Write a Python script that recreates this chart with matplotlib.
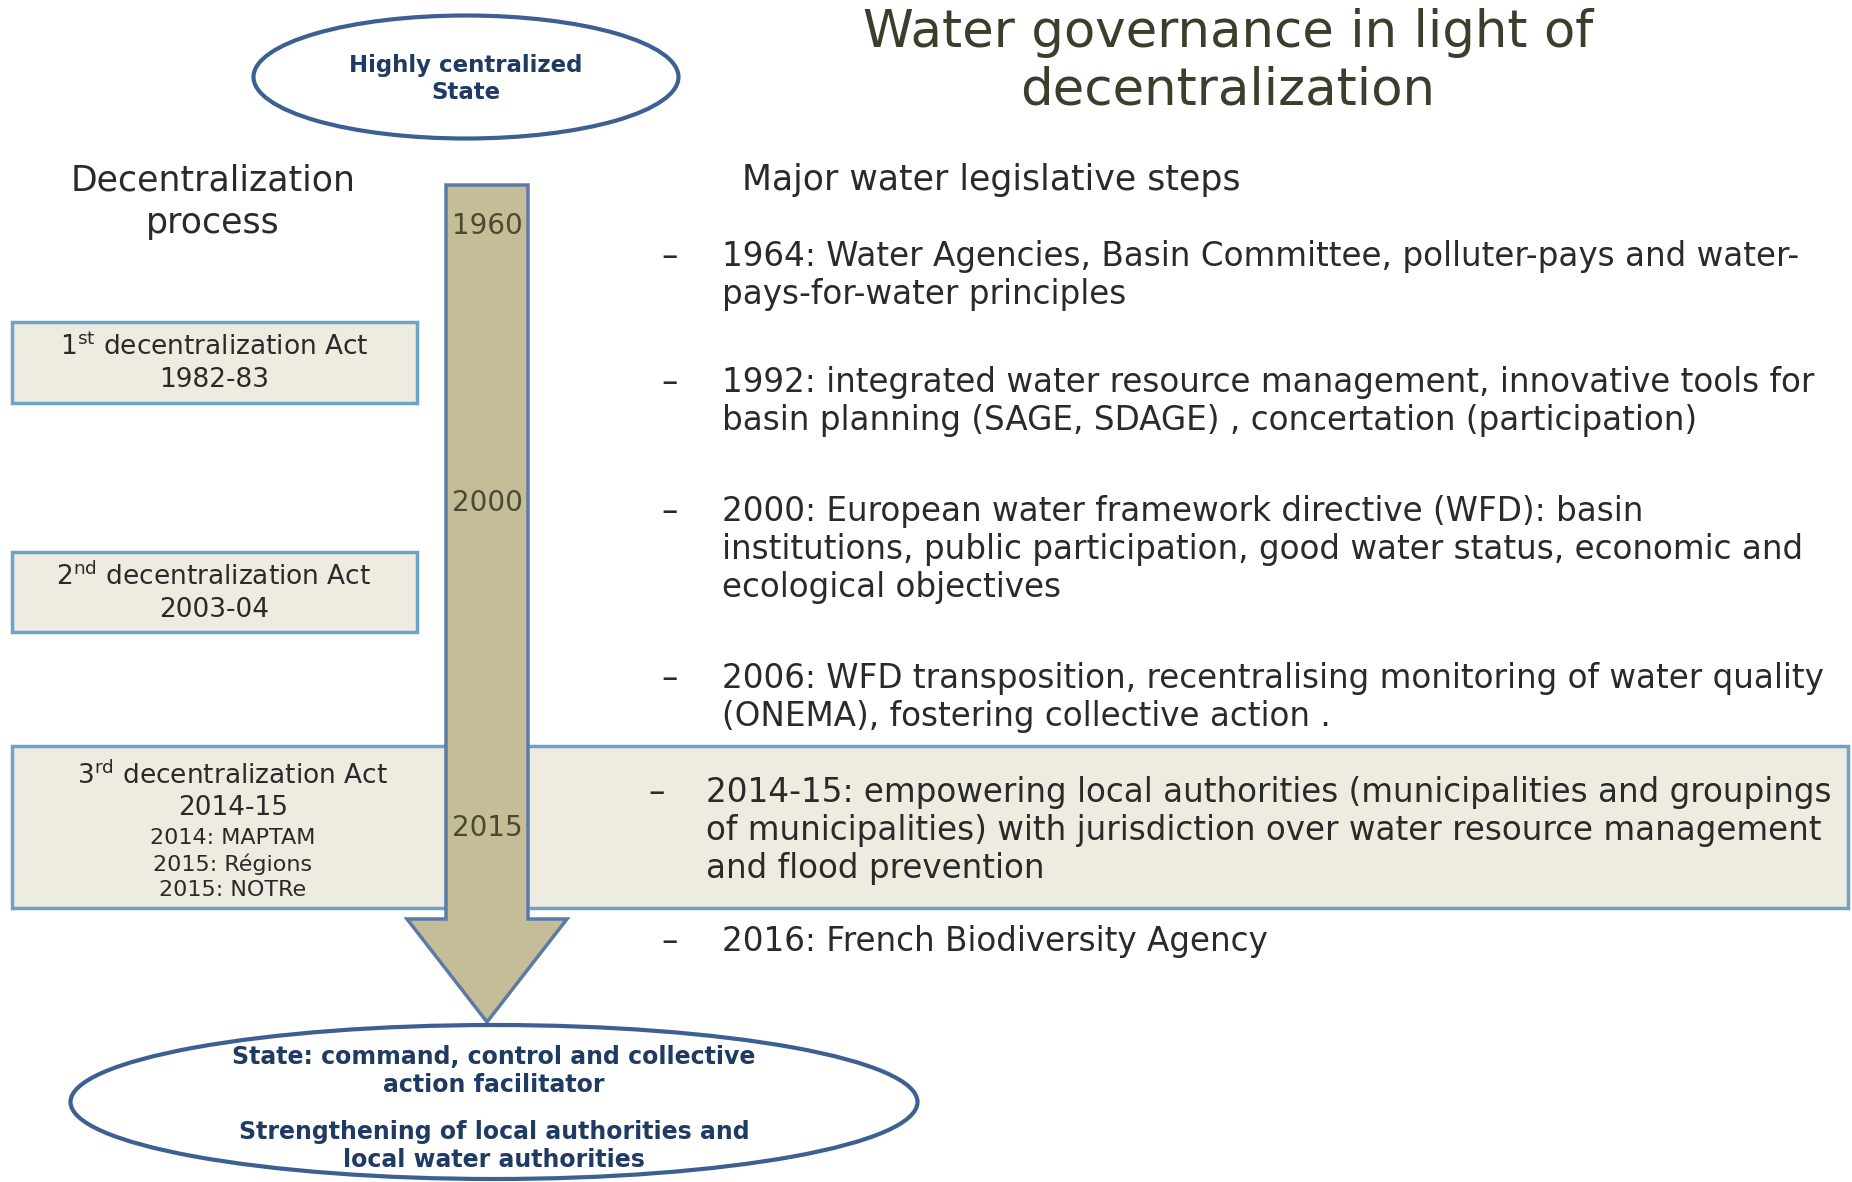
import matplotlib.pyplot as plt
from matplotlib.patches import Ellipse, Rectangle, Polygon

# texts of the diagram
title = "Water governance in light of\ndecentralization"
left_header = "Decentralization\nprocess"
right_header = "Major water legislative steps"
top_state = "Highly centralized\nState"
bottom_state = ["State: command, control and collective\naction facilitator",
                "Strengthening of local authorities and\nlocal water authorities"]
years = ["1960", "2000", "2015"]
year_y = [226, 503, 828]

acts = [r"1$^{\mathrm{st}}$ decentralization Act", r"2$^{\mathrm{nd}}$ decentralization Act",
        r"3$^{\mathrm{rd}}$ decentralization Act"]
act_years = ["1982-83", "2003-04", "2014-15"]
act3_laws = ["2014: MAPTAM", "2015: Régions", "2015: NOTRe"]

steps = [
    "1964: Water Agencies, Basin Committee, polluter-pays and water-\npays-for-water principles",
    "1992: integrated water resource management, innovative tools for\nbasin planning (SAGE, SDAGE) , concertation (participation)",
    "2000: European water framework directive (WFD): basin\ninstitutions, public participation, good water status, economic and\necological objectives",
    "2006: WFD transposition, recentralising monitoring of water quality\n(ONEMA), fostering collective action .",
    "2014-15: empowering local authorities (municipalities and groupings\nof municipalities) with jurisdiction over water resource management\nand flood prevention",
    "2016: French Biodiversity Agency",
]
step_y = [255, 381, 510, 677, 791, 940]

W, H = 1852, 1182
fig = plt.figure(figsize=(W / 100, H / 100), dpi=100)
ax = fig.add_axes([0, 0, 1, 1])
ax.set_xlim(0, W)
ax.set_ylim(H, 0)
ax.axis('off')

txt = '#2a2a2a'
navy = '#1f3a63'
box_fc = '#eeebe0'
box_ec = '#6ea3c9'

ax.text(1228, 62, title, ha='center', va='center', fontsize=37, color='#3d3d2c', linespacing=1.2)
ax.text(213, 202, left_header, ha='center', va='center', fontsize=25, color=txt, linespacing=1.3)
ax.text(742, 180, right_header, ha='left', va='center', fontsize=25, color=txt)

# top ellipse
ax.add_patch(Ellipse((466, 77), 425, 123, fc='white', ec='#3b6091', lw=3))
ax.text(466, 79, top_state, ha='center', va='center', fontsize=16.5, fontweight='bold', color=navy, linespacing=1.25)

# act boxes
ax.add_patch(Rectangle((12, 322), 405, 81, fc=box_fc, ec=box_ec, lw=2.5))
ax.add_patch(Rectangle((12, 552), 405, 80, fc=box_fc, ec=box_ec, lw=2.5))
ax.add_patch(Rectangle((12, 746), 1836, 162, fc=box_fc, ec=box_ec, lw=2.5))

fs_box = 19
ax.text(214, 347, acts[0], ha='center', va='center', fontsize=fs_box, color=txt)
ax.text(214, 380, act_years[0], ha='center', va='center', fontsize=fs_box, color=txt)
ax.text(214, 577, acts[1], ha='center', va='center', fontsize=fs_box, color=txt)
ax.text(214, 610, act_years[1], ha='center', va='center', fontsize=fs_box, color=txt)
ax.text(233, 776, acts[2], ha='center', va='center', fontsize=fs_box, color=txt)
ax.text(233, 808, act_years[2], ha='center', va='center', fontsize=fs_box, color=txt)
for k, law in enumerate(act3_laws):
    ax.text(233, 838 + 26 * k, law, ha='center', va='center', fontsize=16, color=txt)

# big arrow
arrow = [(446, 185), (528, 185), (528, 919), (567, 919), (487, 1022),
         (407, 919), (446, 919)]
ax.add_patch(Polygon(arrow, closed=True, fc='#c4bd97', ec='#5b7ba6', lw=2.5))
for y, lab in zip(year_y, years):
    ax.text(487, y, lab, ha='center', va='center', fontsize=20, color='#4a4a32')

# bottom ellipse
ax.add_patch(Ellipse((494, 1102), 847, 154, fc='white', ec='#3b6091', lw=3))
ax.text(494, 1071, bottom_state[0], ha='center', va='center', fontsize=17, fontweight='bold', color=navy, linespacing=1.2)
ax.text(494, 1146, bottom_state[1], ha='center', va='center', fontsize=17, fontweight='bold', color=navy, linespacing=1.2)

# legislative steps
fs_step = 23.5
for k, (y, s) in enumerate(zip(step_y, steps)):
    dash_x, tx = (657, 706) if k == 4 else (670, 722)
    ax.text(dash_x, y - 15, "–", ha='center', va='top', fontsize=fs_step, color=txt)
    ax.text(tx, y - 15, s, ha='left', va='top', fontsize=fs_step, color=txt, linespacing=1.2)

fig.savefig('out.png', dpi=100)
